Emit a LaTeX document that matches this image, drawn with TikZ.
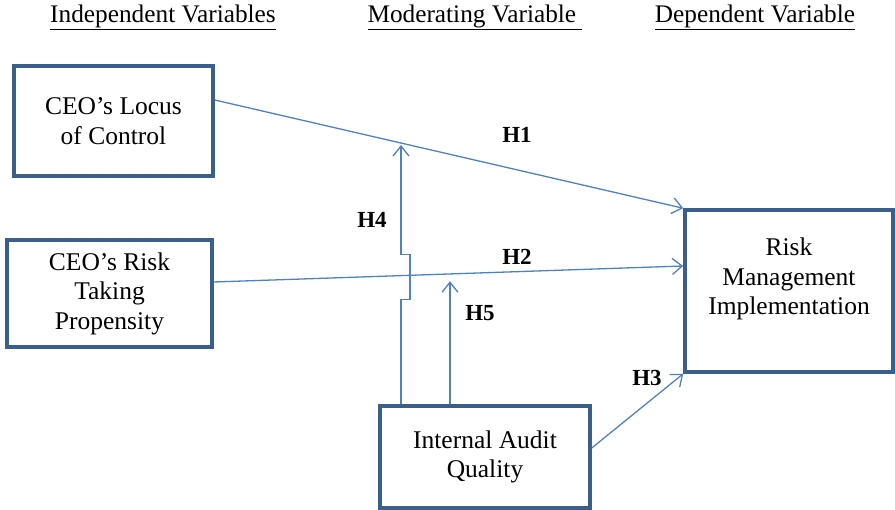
\documentclass[tikz,border=0pt]{standalone}
\usepackage{fontspec}
\setmainfont{Liberation Serif}
\usetikzlibrary{arrows.meta,calc}
\definecolor{boxblue}{HTML}{3A5F8D}
\definecolor{arrblue}{HTML}{4F81BD}
\begin{document}
\begin{tikzpicture}[x=1pt,y=-1pt,
  every node/.style={font=\fontsize{25.5}{29.5}\selectfont, inner sep=0pt},
  varbox/.style={draw=boxblue, line width=3.5pt, align=center, fill=white},
  arr/.style={draw=arrblue, line width=1.3pt, -{Straight Barb[length=10pt,width=16pt,line width=1.3pt]}},
  hlab/.style={font=\fontsize{23}{26}\selectfont\bfseries},
  hdr/.style={font=\fontsize{25.3}{30}\selectfont}
]
\useasboundingbox (0,0) rectangle (895,510);
% headers
\node[hdr] (h1) at (163,17) {\underline{Independent Variables}};
\node[hdr] (h2) at (475,17) {\underline{Moderating Variable\ }};
\node[hdr] (h3) at (755,17) {\underline{Dependent Variable}};
% boxes
\node[varbox, minimum width=199pt, minimum height=110pt] (A) at (113.5,121) {CEO’s Locus\\of Control};
\node[varbox, minimum width=205pt, minimum height=107pt] (B) at (109.5,293.5) {CEO’s Risk\\Taking\\Propensity};
\node[varbox, minimum width=208pt, minimum height=162pt] (C) at (789,291) {Risk\\Management\\Implementation\\\mbox{}};
\node[varbox, minimum width=210pt, minimum height=102pt] (D) at (485,457) {Internal Audit\\Quality};
% arrows
\coordinate (h4tip) at (401,145);
\draw[arr] ([yshift=21pt]A.east) -- (C.north west);
\draw[arr] ([yshift=11.5pt]B.east) -- ([yshift=25pt]C.west);
\draw[arr] ([yshift=9pt]D.east) -- (C.south west);
\draw[arr] ([xshift=-84pt]D.north) -- ++(0,-105) -- ++(9,0) -- ++(0,-45) -- ++(-9,0) -- (h4tip);
\draw[arr] ([xshift=-35pt]D.north) -- ++(0,-123);
% labels
\node[hlab] (l1) at (517,135) {H1};
\node[hlab] (l2) at (517,257) {H2};
\node[hlab] (l3) at (647,378) {H3};
\node[hlab] (l4) at (372,220) {H4};
\node[hlab] (l5) at (480,313) {H5};
\end{tikzpicture}
\end{document}
